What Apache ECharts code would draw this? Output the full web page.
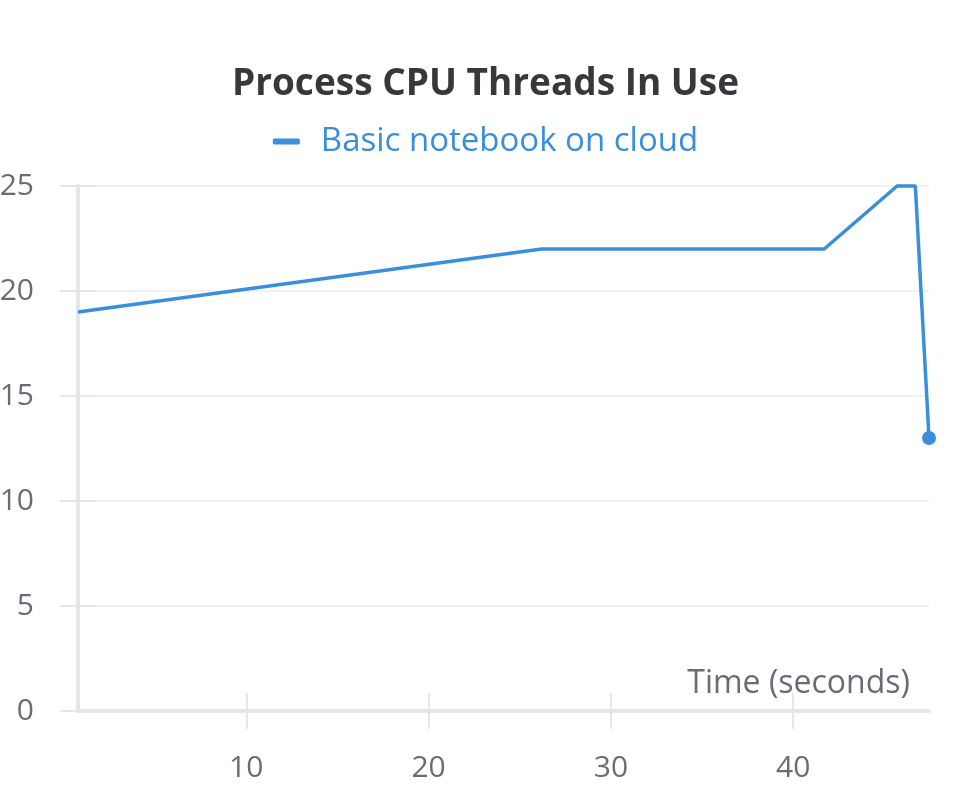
<!DOCTYPE html>
<html>
<head>
<meta charset="utf-8">
<script src="https://cdn.jsdelivr.net/npm/echarts@6/dist/echarts.min.js"></script>
<style>html,body{margin:0;padding:0;background:#fff}#c{width:971px;height:785px}</style>
</head>
<body>
<div id="c"></div>
<script>
var chartTitle = 'Process CPU Threads In Use';
var seriesName = 'Basic notebook on cloud';
var xAxisName = 'Time (seconds)';
var timeValues = [0.77, 26.2, 41.7, 45.7, 46.7, 47.45];
var threadValues = [19, 22, 22, 25, 25, 13];
var xTickValues = [10, 20, 30, 40];

var FONT = 'Open Sans';
var LINE = '#3a8fdc';
var AX = '#e6e6e9';
var LBL = '#6b6b76';

var data = timeValues.map(function (t, i) {
  var item = { value: [t, threadValues[i]] };
  if (i === timeValues.length - 1) { item.symbol = 'circle'; item.symbolSize = 14; }
  return item;
});

var chart = echarts.init(document.getElementById('c'));
chart.setOption({
  animation: false,
  textStyle: { fontFamily: FONT },
  title: {
    text: chartTitle, left: 'center', top: 61,
    textStyle: { fontFamily: FONT, fontSize: 37, fontWeight: 'bold', color: '#37383c' }
  },
  legend: {
    top: 120, left: 'center', padding: [5, 0, 5, 8],
    data: [{ name: seriesName, icon: 'roundRect' }],
    itemWidth: 27, itemHeight: 6,
    textStyle: { fontFamily: FONT, fontSize: 33, color: LINE, padding: [0, 0, 0, 16] }
  },
  grid: { left: 78, right: 42, top: 186, bottom: 74, containLabel: false, outerBoundsMode: 'none' },
  xAxis: [{
    type: 'value', min: timeValues[0], max: timeValues[timeValues.length - 1],
    name: xAxisName, nameLocation: 'end', nameGap: -19,
    nameTextStyle: { fontFamily: FONT, fontSize: 32, color: LBL, align: 'right', verticalAlign: 'bottom', padding: [0, 0, 11, 0] },
    axisLine: { show: true, onZero: false, lineStyle: { color: AX, width: 4 } },
    axisTick: { show: true, customValues: xTickValues, length: 18, lineStyle: { color: AX, width: 2 } },
    axisLabel: { customValues: xTickValues, margin: 42, fontFamily: FONT, fontSize: 30, color: LBL },
    splitLine: { show: false }
  }, {
    type: 'value', position: 'bottom', min: timeValues[0], max: timeValues[timeValues.length - 1],
    axisLine: { show: false },
    axisTick: { show: true, inside: true, customValues: xTickValues, length: 18, lineStyle: { color: AX, width: 2 } },
    axisLabel: { show: false },
    splitLine: { show: false }
  }],
  yAxis: [{
    type: 'value', min: 0, max: 25, interval: 5,
    axisLine: { show: true, lineStyle: { color: AX, width: 4 } },
    axisTick: { show: true, length: 18, lineStyle: { color: AX, width: 2 } },
    axisLabel: { margin: 44, fontFamily: FONT, fontSize: 30, color: LBL },
    splitLine: { show: true, lineStyle: { color: '#ececee', width: 1.5 } }
  }, {
    type: 'value', position: 'left', min: 0, max: 25, interval: 5,
    axisLine: { show: false },
    axisTick: { show: true, inside: true, length: 18, lineStyle: { color: AX, width: 2 } },
    axisLabel: { show: false },
    splitLine: { show: false }
  }],
  series: [{
    name: seriesName, type: 'line', xAxisIndex: 0, yAxisIndex: 0,
    data: data, showSymbol: true, symbol: 'none',
    lineStyle: { color: LINE, width: 3.5 },
    itemStyle: { color: LINE },
    clip: false
  }]
});
</script>
</body>
</html>
